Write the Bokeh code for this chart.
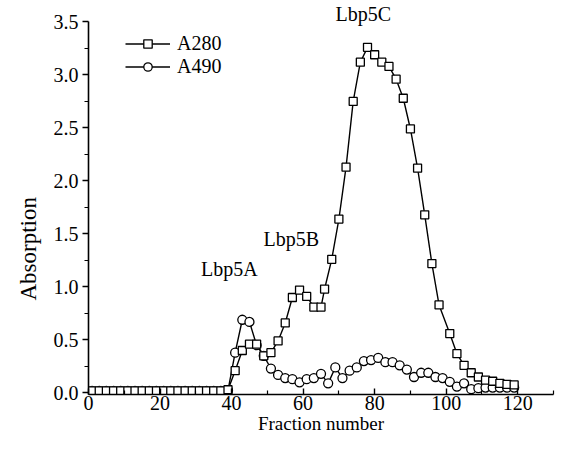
from bokeh.plotting import figure
from bokeh.models import Range1d, LinearAxis, FixedTicker, Legend, LegendItem, Label, PrintfTickFormatter, Title
from bokeh.embed import file_html
from bokeh.resources import INLINE

# ---- data ----
a280_fraction = [1, 3, 5, 7, 9, 11, 13, 15, 17, 19, 21, 23, 25, 27, 29, 31, 33, 35, 37, 39,
                 41, 43, 45, 47, 49, 51, 53, 55, 57, 59, 61, 63, 65, 66, 68, 70, 72, 74, 76, 78,
                 80, 82, 84, 86, 88, 90, 92, 94, 96, 98, 101, 103, 105, 107, 109, 111, 113, 115, 117, 119]
a280_value = [0.02, 0.02, 0.02, 0.02, 0.02, 0.02, 0.02, 0.02, 0.02, 0.02,
              0.02, 0.02, 0.02, 0.02, 0.02, 0.02, 0.02, 0.02, 0.02, 0.03,
              0.21, 0.40, 0.46, 0.46, 0.35, 0.38, 0.49, 0.66, 0.90, 0.97,
              0.91, 0.81, 0.81, 0.98, 1.26, 1.64, 2.13, 2.75, 3.12, 3.26,
              3.19, 3.12, 3.08, 2.96, 2.78, 2.49, 2.12, 1.68, 1.22, 0.83,
              0.56, 0.37, 0.26, 0.19, 0.15, 0.12, 0.11, 0.09, 0.08, 0.075]

a490_fraction = [1, 3, 5, 7, 9, 11, 13, 15, 17, 19, 21, 23, 25, 27, 29, 31, 33, 35, 37, 39,
                 41, 43, 45, 47, 49, 51, 53, 55, 57, 59, 61, 63, 65, 67, 69, 71, 73, 75, 77, 79,
                 81, 83, 85, 87, 89, 91, 93, 95, 97, 99, 101, 103, 105, 107, 109, 111, 113, 115, 117, 119]
a490_value = [0.02, 0.02, 0.02, 0.02, 0.02, 0.02, 0.02, 0.02, 0.02, 0.02,
              0.02, 0.02, 0.02, 0.02, 0.02, 0.02, 0.02, 0.02, 0.02, 0.025,
              0.38, 0.69, 0.67, 0.45, 0.35, 0.23, 0.17, 0.14, 0.13, 0.10,
              0.13, 0.14, 0.18, 0.09, 0.24, 0.14, 0.21, 0.24, 0.30, 0.31,
              0.33, 0.29, 0.29, 0.26, 0.22, 0.15, 0.19, 0.19, 0.15, 0.14,
              0.105, 0.06, 0.09, 0.035, 0.045, 0.05, 0.05, 0.05, 0.05, 0.05]

x_ticks = [0, 20, 40, 60, 80, 100, 120]
x_minor_ticks = [10, 30, 50, 70, 90, 110, 130]
y_ticks = [0.0, 0.5, 1.0, 1.5, 2.0, 2.5, 3.0, 3.5]
y_minor_ticks = [0.25, 0.75, 1.25, 1.75, 2.25, 2.75, 3.25]

peak_names = ["Lbp5A", "Lbp5B", "Lbp5C"]
peak_label_x = [39.4, 56.7, 76.8]
peak_label_y = [1.17, 1.45, 3.575]

series_names = ["A280", "A490"]
x_title = "Fraction number"
y_title = "Absorption"

FONT = "Liberation Serif"

p = figure(frame_width=465, frame_height=394,
           x_range=Range1d(0, 130), y_range=Range1d(-0.015, 3.702),
           x_axis_location=None, y_axis_location=None,
           output_backend="svg", toolbar_location=None,
           min_border_left=88, min_border_right=10, min_border_top=0, min_border_bottom=44,
           background_fill_color="white", border_fill_color="white")
p.outline_line_color = None
p.grid.grid_line_color = None

xaxis = LinearAxis(bounds=(0, 130),
                   ticker=FixedTicker(ticks=x_ticks, minor_ticks=x_minor_ticks))
xaxis.axis_label = x_title
xaxis.major_tick_in = 6
xaxis.major_tick_out = 0
xaxis.minor_tick_in = 4
xaxis.minor_tick_out = 0
xaxis.major_label_standoff = 1
xaxis.axis_label_standoff = 0
xaxis.axis_line_width = 1.6
xaxis.major_tick_line_width = 1.4
xaxis.minor_tick_line_width = 1.2
xaxis.major_label_text_font = FONT
xaxis.major_label_text_font_size = "20px"
xaxis.major_label_text_color = "black"
xaxis.axis_label_text_font = FONT
xaxis.axis_label_text_font_size = "19px"
xaxis.axis_label_text_font_style = "normal"
xaxis.axis_label_text_color = "black"
p.add_layout(xaxis, "below")

yaxis = LinearAxis(bounds=(-0.015, 3.5),
                   ticker=FixedTicker(ticks=y_ticks, minor_ticks=y_minor_ticks),
                   formatter=PrintfTickFormatter(format="%.1f"))
yaxis.major_tick_in = 0
yaxis.major_tick_out = 6
yaxis.minor_tick_in = 0
yaxis.minor_tick_out = 4
yaxis.major_label_standoff = 4
yaxis.axis_line_width = 1.6
yaxis.major_tick_line_width = 1.4
yaxis.minor_tick_line_width = 1.2
yaxis.major_label_text_font = FONT
yaxis.major_label_text_font_size = "20px"
yaxis.major_label_text_color = "black"
p.add_layout(yaxis, "left")

ytitle = Title(text=y_title, align="left", offset=94, standoff=20,
               text_font=FONT, text_font_size="23px", text_font_style="normal",
               text_color="black")
p.add_layout(ytitle, "left")

l280 = p.line(a280_fraction, a280_value, line_color="black", line_width=1.4)
l490 = p.line(a490_fraction, a490_value, line_color="black", line_width=1.4)
c490 = p.scatter(a490_fraction, a490_value, marker="circle", size=9,
                 fill_color="white", line_color="black", line_width=1.3)
s280 = p.scatter(a280_fraction, a280_value, marker="square", size=8,
                 fill_color="white", line_color="black", line_width=1.3)

legend = Legend(items=[LegendItem(label=series_names[0], renderers=[l280, s280]),
                       LegendItem(label=series_names[1], renderers=[l490, c490])],
                location=(37, 316), glyph_width=45, glyph_height=21, label_height=21,
                spacing=0, padding=0, margin=0, label_standoff=7,
                label_text_font=FONT, label_text_font_size="20px", label_text_color="black",
                border_line_color=None, background_fill_alpha=0)
p.add_layout(legend)

for name, lx, ly in zip(peak_names, peak_label_x, peak_label_y):
    p.add_layout(Label(x=lx, y=ly, text=name, text_align="center", text_baseline="middle",
                       text_font=FONT, text_font_size="20px", text_color="black"))

open("out.html", "w").write(file_html(p, INLINE))
